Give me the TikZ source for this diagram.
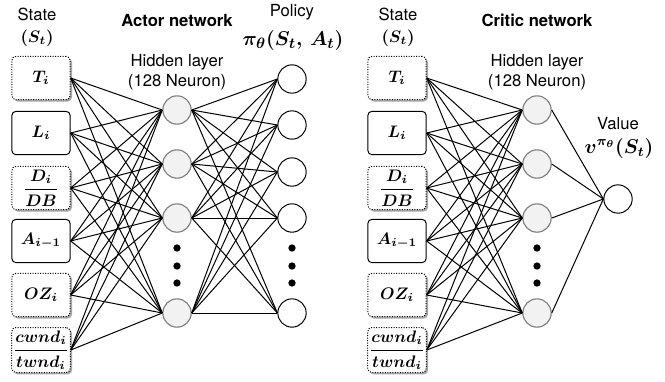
\documentclass[tikz,border=0pt]{standalone}
\usepackage[no-math]{fontspec}
\setmainfont{TeX Gyre Heros}
\usepackage{amsmath}
\usetikzlibrary{positioning,shadows}

\tikzset{
  inbox/.style={rectangle,draw,rounded corners=2.5pt,minimum width=35pt,minimum height=26pt,
    inner sep=1pt,line width=0.6pt,fill=white,font=\boldmath},
  indot/.style={inbox,dash pattern=on 0.6pt off 0.9pt,
    drop shadow={shadow xshift=1.1pt,shadow yshift=-1.1pt,fill=black!35,opacity=1}},
  hidden/.style={circle,draw=black!50,fill=black!5,minimum size=17pt,inner sep=0pt,line width=0.7pt},
  outn/.style={circle,draw,fill=white,minimum size=17pt,inner sep=0pt,line width=0.6pt},
  dot/.style={circle,fill,minimum size=4.4pt,inner sep=0pt},
  lbl/.style={inner sep=0pt,align=center},
  mlbl/.style={lbl,font=\boldmath},
  wire/.style={line width=0.6pt},
}

\begin{document}
\begin{tikzpicture}[x=0.6pt,y=-0.6pt]
\useasboundingbox (0,0) rectangle (665,381);

% ---- actor network ----
\node (aState) [lbl] at (37,14) {State};
\node (aSt) [mlbl] at (37,38) {$(S_t)$};
\node (aTitle) [lbl,font=\bfseries] at (177,20) {Actor network};
\node (aHid) [lbl] at (177,72) {Hidden layer\\(128 Neuron)};
\node (aPol) [lbl] at (292,12) {Policy};
\node (aPi) [mlbl,font=\boldmath\fontsize{12.5}{14}\selectfont] at (293,40) {$\pi_\theta(S_t,\,A_t)$};

\node (a1) [indot] at (41,78) {$T_i$};
\node (a2) [inbox] at (41,133) {$L_i$};
\node (a3) [indot] at (41,188) {$\dfrac{D_i}{DB}$};
\node (a4) [inbox] at (41,241) {$A_{i-1}$};
\node (a5) [indot] at (41,295) {$OZ_i$};
\node (a6) [indot,inner ysep=0pt,minimum height=27pt] at (41,350) {$\dfrac{cwnd_i}{twnd_i}$};

\foreach \y [count=\k] in {110,164,218,313}
  \node (ah\k) [hidden] at (177,\y) {};
\foreach \y [count=\k] in {79,125,172,218,313}
  \node (ao\k) [outn] at (292,\y) {};
\foreach \y [count=\k] in {248,266,283} {
  \node (ahd\k) [dot] at (177,\y) {};
  \node (aod\k) [dot] at (292,\y) {};
}

\foreach \i in {1,...,6}
  \foreach \j in {1,...,4}
    \draw [wire] (a\i.east) -- (ah\j.west);
\foreach \i in {1,...,4}
  \foreach \j in {1,...,5}
    \draw [wire] (ah\i.east) -- (ao\j.west);

% ---- critic network ----
\node (cState) [lbl] at (398,14) {State};
\node (cSt) [mlbl] at (398,38) {$(S_t)$};
\node (cTitle) [lbl,font=\bfseries] at (537,20) {Critic network};
\node (cHid) [lbl] at (537,72) {Hidden layer\\(128 Neuron)};
\node (cVal) [lbl] at (618,124) {Value};
\node (cV) [mlbl,font=\boldmath\fontsize{12}{14}\selectfont] at (619,148) {$v^{\pi_\theta}(S_t)$};

\node (c1) [indot] at (397,78) {$T_i$};
\node (c2) [inbox] at (397,133) {$L_i$};
\node (c3) [indot] at (397,188) {$\dfrac{D_i}{DB}$};
\node (c4) [inbox] at (397,241) {$A_{i-1}$};
\node (c5) [indot] at (397,295) {$OZ_i$};
\node (c6) [indot,inner ysep=0pt,minimum height=27pt] at (397,350) {$\dfrac{cwnd_i}{twnd_i}$};

\foreach \y [count=\k] in {110,164,218,313}
  \node (ch\k) [hidden] at (537,\y) {};
\foreach \y [count=\k] in {248,266,283}
  \node (chd\k) [dot] at (537,\y) {};
\node (cout) [outn] at (618,199) {};

\foreach \i in {1,...,6}
  \foreach \j in {1,...,4}
    \draw [wire] (c\i.east) -- (ch\j.west);
\foreach \i in {1,...,4}
  \draw [wire] (ch\i.east) -- (cout.west);
\end{tikzpicture}
\end{document}
